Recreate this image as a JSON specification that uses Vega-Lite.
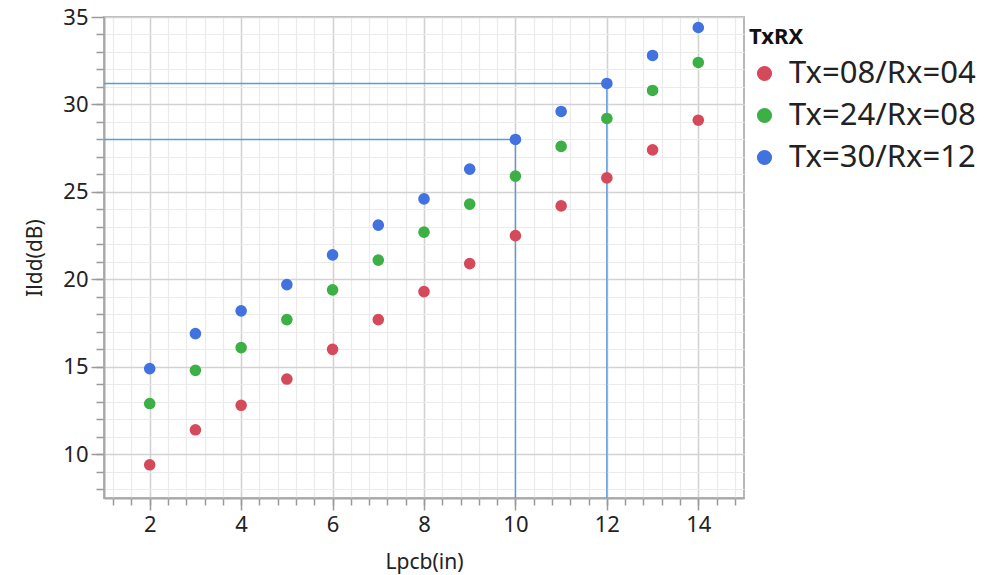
{
  "$schema": "https://vega.github.io/schema/vega-lite/v6.json",
  "width": 640,
  "height": 481,
  "autosize": {"type": "none"},
  "padding": {"left": 104, "top": 17, "right": 243, "bottom": 77},
  "background": "white",
  "config": {
    "font": "Noto Sans",
    "view": {"stroke": "#b8b8b8", "strokeWidth": 2}
  },
  "data": {
    "values": [
      {"Lpcb": 2, "Ildd": 9.4, "TxRX": "Tx=08/Rx=04"},
      {"Lpcb": 3, "Ildd": 11.4, "TxRX": "Tx=08/Rx=04"},
      {"Lpcb": 4, "Ildd": 12.8, "TxRX": "Tx=08/Rx=04"},
      {"Lpcb": 5, "Ildd": 14.3, "TxRX": "Tx=08/Rx=04"},
      {"Lpcb": 6, "Ildd": 16.0, "TxRX": "Tx=08/Rx=04"},
      {"Lpcb": 7, "Ildd": 17.7, "TxRX": "Tx=08/Rx=04"},
      {"Lpcb": 8, "Ildd": 19.3, "TxRX": "Tx=08/Rx=04"},
      {"Lpcb": 9, "Ildd": 20.9, "TxRX": "Tx=08/Rx=04"},
      {"Lpcb": 10, "Ildd": 22.5, "TxRX": "Tx=08/Rx=04"},
      {"Lpcb": 11, "Ildd": 24.2, "TxRX": "Tx=08/Rx=04"},
      {"Lpcb": 12, "Ildd": 25.8, "TxRX": "Tx=08/Rx=04"},
      {"Lpcb": 13, "Ildd": 27.4, "TxRX": "Tx=08/Rx=04"},
      {"Lpcb": 14, "Ildd": 29.1, "TxRX": "Tx=08/Rx=04"},
      {"Lpcb": 2, "Ildd": 12.9, "TxRX": "Tx=24/Rx=08"},
      {"Lpcb": 3, "Ildd": 14.8, "TxRX": "Tx=24/Rx=08"},
      {"Lpcb": 4, "Ildd": 16.1, "TxRX": "Tx=24/Rx=08"},
      {"Lpcb": 5, "Ildd": 17.7, "TxRX": "Tx=24/Rx=08"},
      {"Lpcb": 6, "Ildd": 19.4, "TxRX": "Tx=24/Rx=08"},
      {"Lpcb": 7, "Ildd": 21.1, "TxRX": "Tx=24/Rx=08"},
      {"Lpcb": 8, "Ildd": 22.7, "TxRX": "Tx=24/Rx=08"},
      {"Lpcb": 9, "Ildd": 24.3, "TxRX": "Tx=24/Rx=08"},
      {"Lpcb": 10, "Ildd": 25.9, "TxRX": "Tx=24/Rx=08"},
      {"Lpcb": 11, "Ildd": 27.6, "TxRX": "Tx=24/Rx=08"},
      {"Lpcb": 12, "Ildd": 29.2, "TxRX": "Tx=24/Rx=08"},
      {"Lpcb": 13, "Ildd": 30.8, "TxRX": "Tx=24/Rx=08"},
      {"Lpcb": 14, "Ildd": 32.4, "TxRX": "Tx=24/Rx=08"},
      {"Lpcb": 2, "Ildd": 14.9, "TxRX": "Tx=30/Rx=12"},
      {"Lpcb": 3, "Ildd": 16.9, "TxRX": "Tx=30/Rx=12"},
      {"Lpcb": 4, "Ildd": 18.2, "TxRX": "Tx=30/Rx=12"},
      {"Lpcb": 5, "Ildd": 19.7, "TxRX": "Tx=30/Rx=12"},
      {"Lpcb": 6, "Ildd": 21.4, "TxRX": "Tx=30/Rx=12"},
      {"Lpcb": 7, "Ildd": 23.1, "TxRX": "Tx=30/Rx=12"},
      {"Lpcb": 8, "Ildd": 24.6, "TxRX": "Tx=30/Rx=12"},
      {"Lpcb": 9, "Ildd": 26.3, "TxRX": "Tx=30/Rx=12"},
      {"Lpcb": 10, "Ildd": 28.0, "TxRX": "Tx=30/Rx=12"},
      {"Lpcb": 11, "Ildd": 29.6, "TxRX": "Tx=30/Rx=12"},
      {"Lpcb": 12, "Ildd": 31.2, "TxRX": "Tx=30/Rx=12"},
      {"Lpcb": 13, "Ildd": 32.8, "TxRX": "Tx=30/Rx=12"},
      {"Lpcb": 14, "Ildd": 34.4, "TxRX": "Tx=30/Rx=12"}
    ]
  },
  "layer": [
    {
      "transform": [
        {"filter": "datum.TxRX === 'Tx=30/Rx=12' && (datum.Lpcb === 10 || datum.Lpcb === 12)"}
      ],
      "mark": {"type": "rule", "color": "#5a9ae0", "strokeWidth": 1.4},
      "encoding": {
        "x": {
          "field": "Lpcb",
          "type": "quantitative",
          "scale": {"domain": [1, 15], "nice": false, "zero": false},
          "axis": {
            "orient": "bottom",
            "values": [1.2, 1.6, 2, 2.4, 2.8, 3.2, 3.6, 4, 4.4, 4.8, 5.2, 5.6, 6, 6.4, 6.8, 7.2, 7.6, 8, 8.4, 8.8, 9.2, 9.6, 10, 10.4, 10.8, 11.2, 11.6, 12, 12.4, 12.8, 13.2, 13.6, 14, 14.4, 14.8],
            "grid": true,
            "gridColor": "#ebebeb",
            "gridWidth": 1.2,
            "labels": false,
            "title": null,
            "domain": false,
            "tickSize": 7,
            "tickColor": "#9a9a9a",
            "tickWidth": 1.5
          }
        },
        "y": {
          "field": "Ildd",
          "type": "quantitative",
          "scale": {"domain": [7.5, 35], "nice": false, "zero": false},
          "axis": {
            "orient": "left",
            "values": [8, 9, 10, 11, 12, 13, 14, 15, 16, 17, 18, 19, 20, 21, 22, 23, 24, 25, 26, 27, 28, 29, 30, 31, 32, 33, 34],
            "grid": true,
            "gridColor": "#ebebeb",
            "gridWidth": 1.2,
            "labels": false,
            "title": null,
            "domain": false,
            "tickSize": 8,
            "tickColor": "#9a9a9a",
            "tickWidth": 1.5
          }
        },
        "y2": {"datum": 7.5}
      }
    },
    {
      "transform": [
        {"filter": "datum.TxRX === 'Tx=30/Rx=12' && (datum.Lpcb === 10 || datum.Lpcb === 12)"}
      ],
      "mark": {"type": "rule", "color": "#5a9ae0", "strokeWidth": 1.4},
      "encoding": {
        "x": {"field": "Lpcb", "type": "quantitative", "axis": null},
        "x2": {"datum": 1},
        "y": {"field": "Ildd", "type": "quantitative", "axis": null}
      }
    },
    {
      "mark": {"type": "circle", "size": 135, "opacity": 1},
      "encoding": {
        "x": {
          "field": "Lpcb",
          "type": "quantitative",
          "axis": {
            "orient": "bottom",
            "values": [2, 4, 6, 8, 10, 12, 14],
            "grid": true,
            "gridColor": "#d2d2d2",
            "gridWidth": 1.5,
            "tickSize": 12,
            "tickColor": "#9a9a9a",
            "tickWidth": 1.5,
            "domainColor": "#a8a8a8",
            "domainWidth": 2,
            "labelFontSize": 22,
            "labelColor": "#222",
            "labelPadding": 4,
            "title": "Lpcb(in)",
            "titleFontSize": 21,
            "titleFontWeight": "normal",
            "titleColor": "#222",
            "titlePadding": 16
          }
        },
        "y": {
          "field": "Ildd",
          "type": "quantitative",
          "axis": {
            "orient": "left",
            "values": [10, 15, 20, 25, 30, 35],
            "grid": true,
            "gridColor": "#d2d2d2",
            "gridWidth": 1.5,
            "tickSize": 13,
            "tickColor": "#9a9a9a",
            "tickWidth": 1.5,
            "domainColor": "#a8a8a8",
            "domainWidth": 2,
            "labelFontSize": 22,
            "labelColor": "#222",
            "labelPadding": 3,
            "title": "Ildd(dB)",
            "titleFontSize": 21,
            "titleFontWeight": "normal",
            "titleColor": "#222",
            "titlePadding": 17
          }
        },
        "color": {
          "field": "TxRX",
          "type": "nominal",
          "scale": {
            "domain": ["Tx=08/Rx=04", "Tx=24/Rx=08", "Tx=30/Rx=12"],
            "range": ["#d54a5a", "#3cb044", "#4271e0"]
          },
          "legend": {
            "orient": "none",
            "legendX": 645,
            "legendY": 10,
            "title": "TxRX",
            "titleFontSize": 22,
            "titleFontWeight": "bold",
            "titleColor": "#111",
            "titlePadding": 9,
            "labelFontSize": 31,
            "labelLimit": 400,
            "labelColor": "#222",
            "labelOffset": 9,
            "symbolType": "circle",
            "symbolSize": 230,
            "symbolStrokeWidth": 0,
            "rowPadding": 10
          }
        }
      }
    }
  ],
  "resolve": {"axis": {"x": "independent", "y": "independent"}}
}
